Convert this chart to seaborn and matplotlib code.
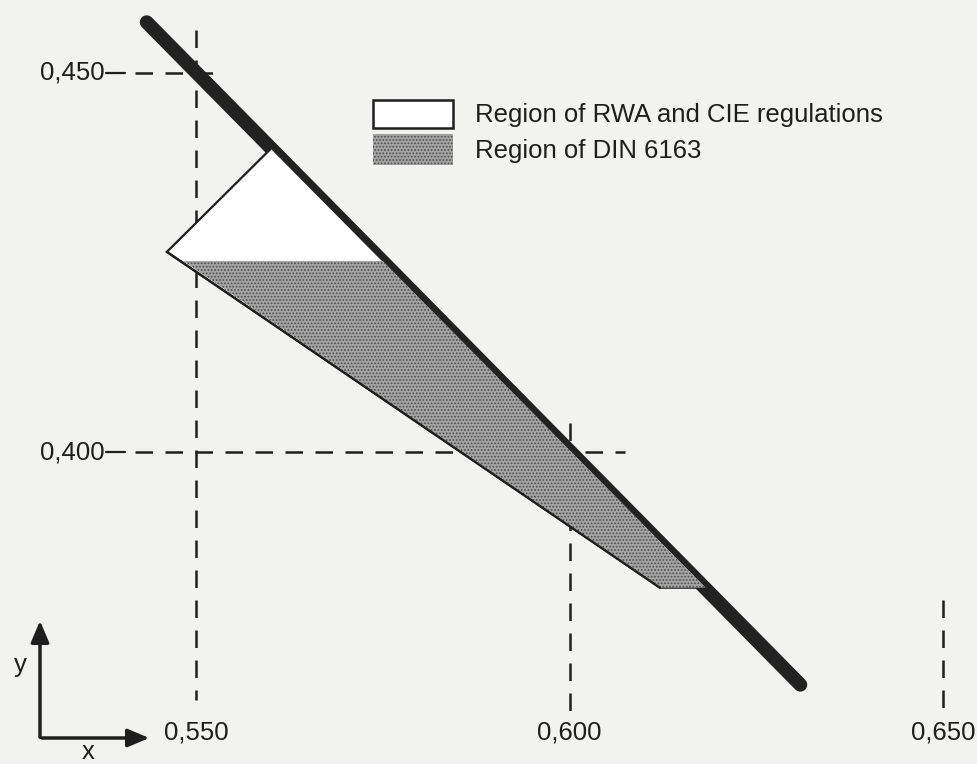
import numpy as np
import pandas as pd
import seaborn as sns
import matplotlib.pyplot as plt
from matplotlib.patches import Polygon, Rectangle

# chromaticity data (x, y)
locus_x = [0.5434, 0.6309]
locus_y = [0.4567, 0.3693]

rwa_x = [0.5600, 0.5461, 0.6121, 0.6182]
rwa_y = [0.4400, 0.4264, 0.3821, 0.3821]

din_x = [0.5750, 0.5483, 0.6121, 0.6182]
din_y = [0.4252, 0.4252, 0.3821, 0.3821]

xticks = [0.550, 0.600, 0.650]
xtick_labels = ["0,550", "0,600", "0,650"]
xguide_top = [0.4557, 0.4038, 0.3805]
xguide_bottom = [0.3673, 0.3656, 0.3656]

yticks = [0.450, 0.400]
ytick_labels = ["0,450", "0,400"]
yguide_end = [0.5529, 0.6074]

legend_labels = ["Region of RWA and CIE regulations", "Region of DIN 6163"]

sns.set_style("white")
plt.rcParams['font.family'] = ['Liberation Sans', 'DejaVu Sans']
plt.rcParams['hatch.linewidth'] = 0.8
paper = '#f2f2f0'
ink = '#1e1e1e'
shade = '#a4a4a4'
dots = '#4a4a4a'
fs = 18.5

fig = plt.figure(figsize=(9.77, 7.64), dpi=100, facecolor=paper)
ax = fig.add_axes([0, 0, 1, 1])
ax.set_facecolor(paper)
ax.set_xlim(0.52376, 0.65455)
ax.set_ylim(0.35884, 0.45963)
ax.axis('off')

# dashed guides
for x, t, b in zip(xticks, xguide_top, xguide_bottom):
    ax.plot([x, x], [t, b], color=ink, lw=1.8, dashes=(7, 5), zorder=1)
for y, e in zip(yticks, yguide_end):
    ax.plot([0.5418, e], [y, y], color=ink, lw=1.8, dashes=(7, 5), zorder=1)
    ax.plot([0.5380, 0.5405], [y, y], color=ink, lw=1.6, zorder=1)

for x, lab in zip(xticks, xtick_labels):
    ax.text(x, 0.3630, lab, ha='center', va='center', fontsize=fs, color=ink)
for y, lab in zip(yticks, ytick_labels):
    ax.text(0.5377, y, lab, ha='right', va='center', fontsize=fs, color=ink)

# spectrum locus
locus = pd.DataFrame({'x': locus_x, 'y': locus_y})
sns.lineplot(data=locus, x='x', y='y', ax=ax, color='#222222', lw=10,
             solid_capstyle='round', zorder=2)

# regions (drawn over the locus)
ax.add_patch(Polygon(list(zip(rwa_x, rwa_y)), closed=False, facecolor='white',
                     edgecolor=ink, lw=1.6, zorder=3))
ax.add_patch(Polygon(list(zip(din_x, din_y)), closed=True, facecolor=shade,
                     edgecolor=dots, lw=0, hatch='.....', zorder=4))
ax.plot(rwa_x[1:3], rwa_y[1:3], color=ink, lw=1.6, zorder=5)

# legend
fig.patches.append(Rectangle((373 / 977, 1 - 128 / 764), 80 / 977, 28 / 764,
                             transform=fig.transFigure, facecolor='white',
                             edgecolor=ink, lw=1.8))
fig.patches.append(Rectangle((373 / 977, 1 - 165 / 764), 80 / 977, 31 / 764,
                             transform=fig.transFigure, facecolor=shade,
                             edgecolor=dots, lw=0, hatch='.....'))
fig.text(475 / 977, 1 - 115 / 764, legend_labels[0], fontsize=fs, va='center', color=ink)
fig.text(475 / 977, 1 - 151 / 764, legend_labels[1], fontsize=fs, va='center', color=ink)

# coordinate arrows
arrow = dict(arrowstyle='-|>,head_length=1.3,head_width=0.55', color=ink, lw=2.5)
ax.annotate('', xy=(40 / 977, 1 - 618 / 764), xytext=(40 / 977, 1 - 740 / 764),
            xycoords='figure fraction', arrowprops=arrow)
ax.annotate('', xy=(152 / 977, 1 - 738 / 764), xytext=(39 / 977, 1 - 738 / 764),
            xycoords='figure fraction', arrowprops=arrow)
fig.text(20 / 977, 1 - 665 / 764, 'y', fontsize=fs, ha='center', va='center', color=ink)
fig.text(88 / 977, 1 - 752 / 764, 'x', fontsize=fs, ha='center', va='center', color=ink)

fig.savefig('out.png', dpi=100, facecolor=paper)
